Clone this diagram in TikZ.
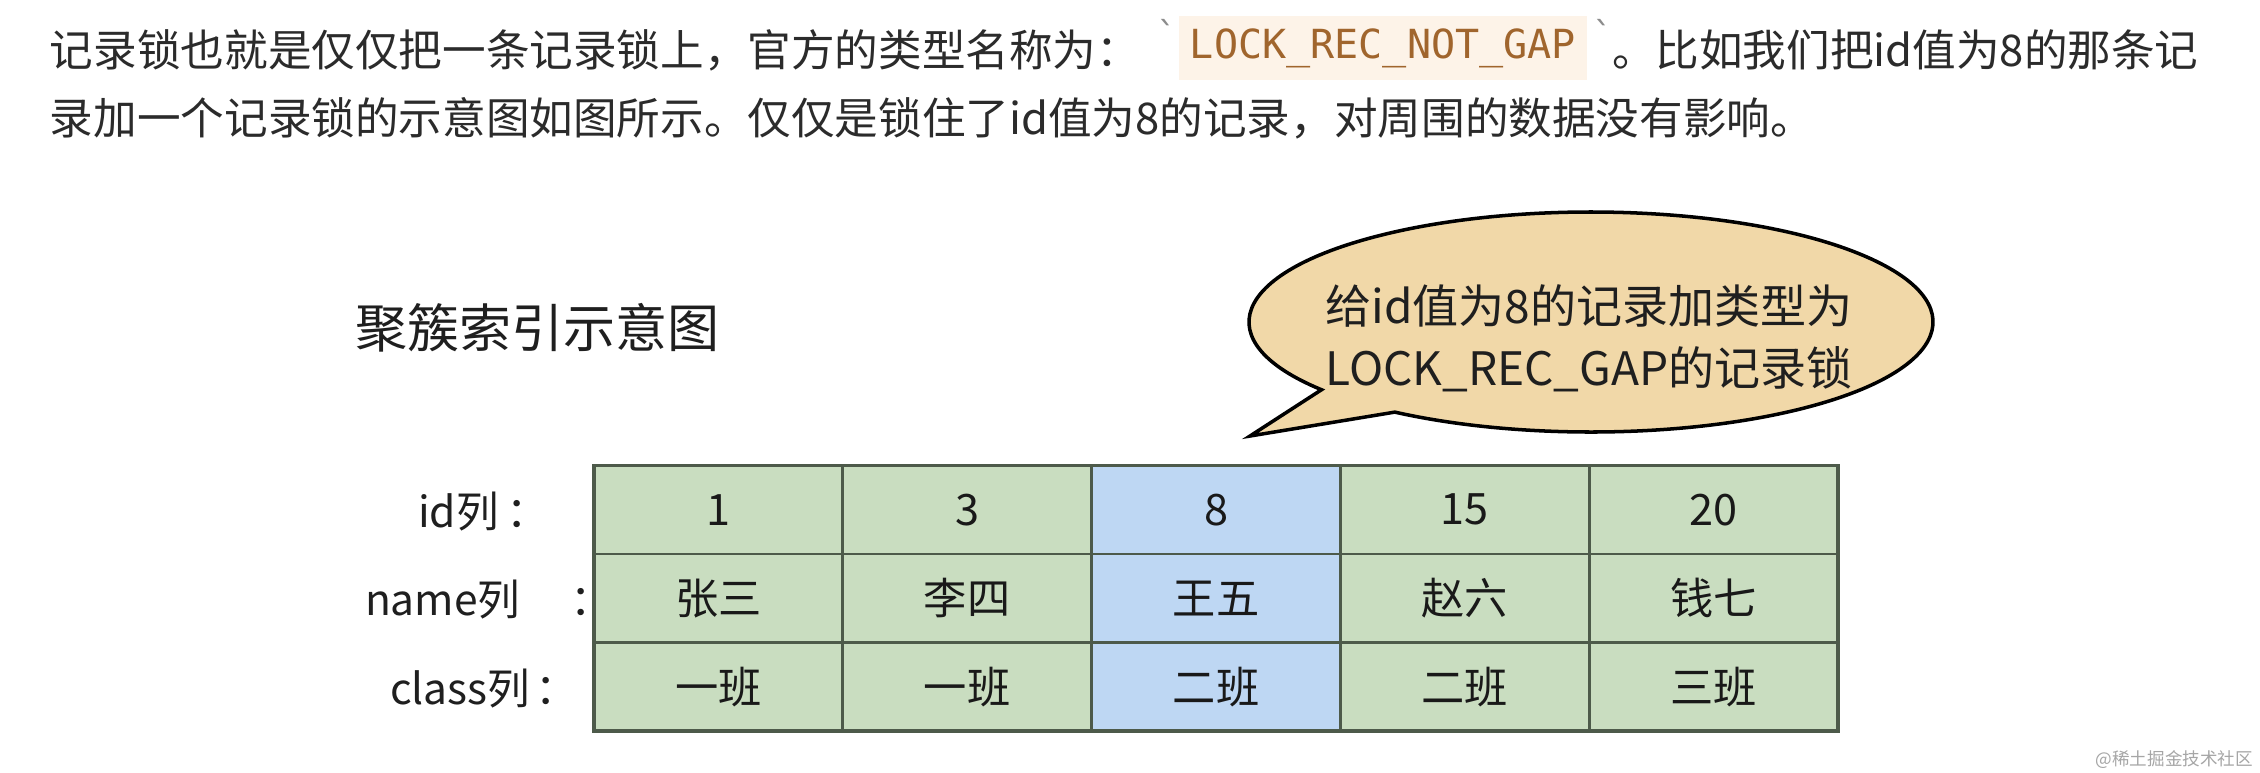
\documentclass[tikz,border=0pt]{standalone}
\usepackage{fontspec}
\setmainfont{Noto Sans CJK SC}
\newfontfamily\codefont{DejaVu Sans Mono}
\usetikzlibrary{positioning}

\definecolor{cellgreen}{HTML}{C9DDC0}
\definecolor{cellblue}{HTML}{BED7F3}
\definecolor{gridline}{HTML}{4D5A4A}
\definecolor{bubblefill}{HTML}{F1D8A8}
\definecolor{codebg}{HTML}{FDF3E8}
\definecolor{codefg}{HTML}{A0652D}
\definecolor{bodytext}{HTML}{2B2B2B}

\begin{document}
\begin{tikzpicture}[x=0.01cm, y=-0.01cm,
    every node/.style={inner sep=0pt, outer sep=0pt},
    body/.style={text=bodytext, anchor=west, font=\fontsize{12.4}{15}\selectfont},
    cell/.style={draw=gridline, line width=0.8pt, minimum width=2.488cm,
        minimum height=0.884cm, text=black!90, font=\fontsize{12.3}{15}\selectfont},
    rowlabel/.style={anchor=west, text=black!88, font=\fontsize{12.1}{15}\selectfont}]
    \fill[white] (0,0) rectangle (2260,772);
    \useasboundingbox (0,0) rectangle (2260,772);

    % paragraph above the figure
    \node[body] (line1a) at (50,50) {记录锁也就是仅仅把一条记录锁上，官方的类型名称为：};
    \node[fill=codebg, minimum width=4.07cm, minimum height=0.64cm, text=codefg,
        font=\codefont\fontsize{11.4}{14}\selectfont] (code) at (1383,48) {LOCK\_REC\_NOT\_GAP};
    \node[text=black!45, font=\codefont\fontsize{10}{12}\selectfont] (tickl) at (1167,33) {\textasciigrave};
    \node[text=black!45, font=\codefont\fontsize{10}{12}\selectfont] (tickr) at (1603,33) {\textasciigrave};
    \node[body] (line1b) at (1612,50) {。比如我们把id值为8的那条记};
    \node[body] (line2) at (50,118) {录加一个记录锁的示意图如图所示。仅仅是锁住了id值为8的记录，对周围的数据没有影响。};

    % title and callout
    \node[anchor=west, text=black!88, font=\fontsize{14.8}{18}\selectfont] (title) at (355,328) {聚簇索引示意图};
    \coordinate (tip) at (1250,436);
    \filldraw[fill=bubblefill, draw=black, line width=1pt, line join=miter]
        (1591,322) ++(142:342 and 110) arc[start angle=142, end angle=485, x radius=342, y radius=110]
        -- (tip) -- cycle;
    \node[align=center, text=black!88, font=\fontsize{13.1}{17.6}\selectfont] (bubtext) at (1589,338)
        {给id值为8的记录加类型为\\LOCK\_REC\_GAP的记录锁};

    % the table
    \foreach \id/\nm/\cl/\c [count=\i] in {1/张三/一班/cellgreen, 3/李四/一班/cellgreen,
            8/王五/二班/cellblue, 15/赵六/二班/cellgreen, 20/钱七/三班/cellgreen} {
        \node[cell, fill=\c] (id\i) at ({594+248.8*(\i-0.5)},509.7) {\id};
        \node[cell, fill=\c, below=0pt of id\i] (nm\i) {\nm};
        \node[cell, fill=\c, below=0pt of nm\i] (cl\i) {\cl};
    }
    \draw[gridline, line width=1.1pt] (id1.north west) rectangle (cl5.south east);

    \node[rowlabel] (idlab) at (418,512) {id列\hspace{0.08cm}：};
    \node[rowlabel] (nmlab) at (365,600) {name列\hspace{0.5cm}：};
    \node[rowlabel] (cllab) at (390,689) {class列\hspace{0.05cm}：};

    \node[anchor=east, text=black!35, font=\fontsize{5}{6}\selectfont] (mark) at (2253,760) {@稀土掘金技术社区};
\end{tikzpicture}
\end{document}
